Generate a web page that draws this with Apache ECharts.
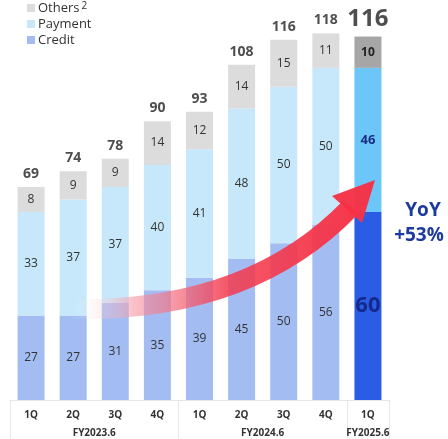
<!DOCTYPE html>
<html><head><meta charset="utf-8">
<script src="https://cdn.jsdelivr.net/npm/echarts@6/dist/echarts.min.js"></script>
<style>html,body{margin:0;padding:0;background:#fff}#c{width:448px;height:439px}</style>
</head><body><div id="c"></div>
<script>
const categories = ['1Q','2Q','3Q','4Q','1Q','2Q','3Q','4Q','1Q'];
const groups = ['FY2023.6','FY2024.6','FY2025.6'];
const groupSizes = [4,4,1];
const credit = [27,27,31,35,39,45,50,56,60];
const payment = [33,37,37,40,41,48,50,50,46];
const others = [8,9,9,14,12,14,15,11,10];
const totals = [69,74,78,90,93,108,116,118,116];
const yoyText = ['YoY','+53%'];

const FONT = 'Open Sans';
const C = {credit:'#a3bcf2', payment:'#c6e8fa', others:'#dcdcdc',
           creditHi:'#2a5ce6', paymentHi:'#6cc6f7', othersHi:'#a6a6a6'};
const last = categories.length - 1;

function mk(arr, hiColor, hiLabel){
  return arr.map((v,i)=> i===last ? {value:v, itemStyle:{color:hiColor}, label:hiLabel} : v);
}
const groupCenters = []; let acc = 0;
groupSizes.forEach(s=>{ groupCenters.push(acc + s/2); acc += s; });
const groupStarts = [0]; acc=0; groupSizes.forEach(s=>{acc+=s; groupStarts.push(acc);});

const chart = echarts.init(document.getElementById('c'));
const baseLabel = {show:true, position:'inside', fontSize:12, color:'#333', fontFamily:FONT};
chart.setOption({
  animation:false,
  textStyle:{fontFamily:FONT},
  legend:{orient:'vertical', left:27, top:1, padding:0, itemWidth:8, itemHeight:8, itemGap:2,
    icon:'rect', data:['Others','Payment','Credit'],
    textStyle:{fontSize:13, lineHeight:14, color:'#333', fontFamily:FONT, padding:[0,0,0,-2],
      rich:{sup:{fontSize:10, lineHeight:14, color:'#333', verticalAlign:'top', padding:[0,0,4,2]}}},
    formatter: n => n==='Others' ? 'Others{sup|2}' : n},
  grid:{left:10, right:59, top:24, bottom:39},
  xAxis:[{type:'category', data:categories, position:'bottom',
     axisLine:{show:true, lineStyle:{color:'#e6e6e6'}},
     axisTick:{show:true, length:39, interval:(i)=>groupStarts.indexOf(i)>=0, lineStyle:{color:'#e6e6e6'}},
     axisLabel:{fontSize:10, fontWeight:'bold', color:'#333', margin:10, fontFamily:FONT}},
    {type:'value', min:0, max:categories.length, interval:0.5, position:'bottom', offset:0,
     axisLine:{show:false}, axisTick:{show:false}, splitLine:{show:false},
     axisLabel:{fontSize:10, fontWeight:'bold', color:'#333', margin:28, fontFamily:FONT,
       showMinLabel:true, showMaxLabel:true,
       formatter:v=>{const k=groupCenters.indexOf(v); return k>=0?groups[k]:'';}}}],
  yAxis:{type:'value', min:0, max:120, show:false},
  series:[
    {name:'Credit', type:'bar', stack:'s', barWidth:27, itemStyle:{color:C.credit},
      label:baseLabel,
      data:mk(credit, C.creditHi, {fontSize:22, fontWeight:'bold', color:'#132a8c'})},
    {name:'Payment', type:'bar', stack:'s', barWidth:27, itemStyle:{color:C.payment},
      label:baseLabel,
      data:mk(payment, C.paymentHi, {fontSize:13, fontWeight:'bold', color:'#1a2f80'})},
    {name:'Others', type:'bar', stack:'s', barWidth:27, itemStyle:{color:C.others},
      label:baseLabel,
      data:mk(others, C.othersHi, {fontSize:12, fontWeight:'bold', color:'#222'})},
    {name:'Total', type:'scatter', symbolSize:0, silent:true,
      label:{show:true, position:'top', distance:3, fontSize:14, fontWeight:'bold', color:'#222', fontFamily:FONT,
        formatter:p=>p.value},
      data:totals.map((v,i)=> i===last ? {value:v, label:{fontSize:24, distance:5}} : v)}
  ],
  graphic:[
    {type:'bezierCurve', z:10, silent:true,
      shape:{x1:72, y1:309, cpx1:250, cpy1:312, x2:351, y2:207},
      style:{fill:null, lineWidth:20,
        stroke:{type:'linear', x:72, y:0, x2:351, y2:0, global:true,
          colorStops:[{offset:0,color:'rgba(255,255,255,0)'},{offset:0.22,color:'rgba(245,150,165,0.6)'},
                      {offset:0.55,color:'rgba(243,60,80,0.85)'},{offset:1,color:'rgba(246,50,70,0.97)'}]}}},
    {type:'polygon', z:10, silent:true,
      shape:{points:[[375,180],[332,196],[362,223]]},
      style:{fill:'rgba(246,50,70,0.97)'}},
    {type:'text', x:423, y:201, z:10, style:{text:yoyText[0], font:'bold 19px "Open Sans"', fill:'#1d3a9e', textAlign:'center'}},
    {type:'text', x:419, y:226, z:10, style:{text:yoyText[1], font:'bold 19px "Open Sans"', fill:'#1d3a9e', textAlign:'center'}}
  ]
});
</script></body></html>
